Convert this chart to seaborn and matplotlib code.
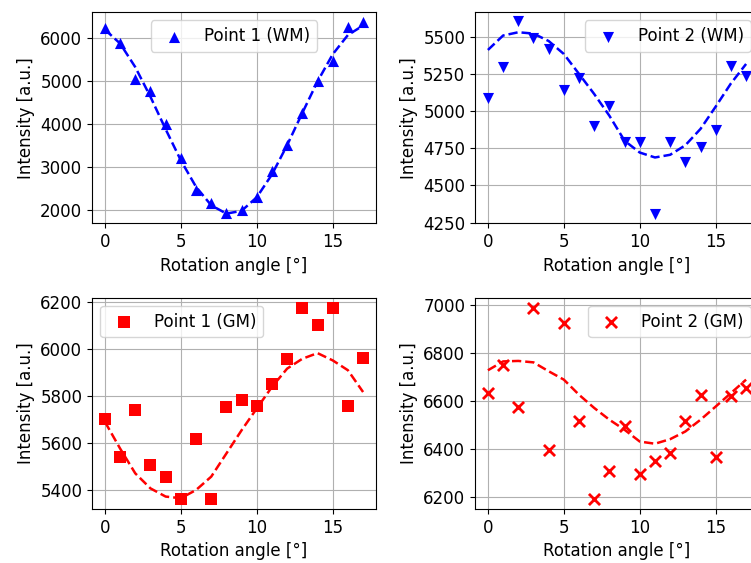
import matplotlib
matplotlib.use("Agg")
import matplotlib.pyplot as plt
import seaborn as sns

# rotation angles (deg)
angles = list(range(18))

# measured intensities
wm1 = [6220, 5890, 5040, 4770, 3990, 3210, 2450, 2160, 1930,
       2000, 2300, 2900, 3500, 4250, 4985, 5450, 6240, 6360]
wm2 = [5085, 5294, 5603, 5489, 5417, 5141, 5219, 4901, 5036,
       4789, 4793, 4307, 4793, 4659, 4755, 4874, 5300, 5233]
gm1 = [5705, 5539, 5740, 5506, 5457, 5362, 5617, 5360, 5753,
       5783, 5760, 5851, 5959, 6176, 6106, 6176, 5757, 5965]
gm2 = [6634, 6753, 6574, 6989, 6398, 6927, 6519, 6192, 6311,
       6495, 6298, 6352, 6384, 6516, 6624, 6367, 6620, 6655]

# fitted curves
wm1_fit = [6190, 5867, 5317, 4626, 3871, 3147, 2531, 2102, 1908,
           1973, 2289, 2820, 3502, 4252, 4984, 5616, 6064, 6285]
wm2_fit = [5410, 5507, 5529, 5520, 5470, 5383, 5249, 5114, 4968,
           4800, 4721, 4688, 4706, 4770, 4880, 5030, 5185, 5316]
gm1_fit = [5691, 5577, 5471, 5407, 5372, 5365, 5400, 5457, 5556,
           5655, 5748, 5840, 5918, 5960, 5984, 5953, 5911, 5818]
gm2_fit = [6729, 6766, 6768, 6762, 6725, 6690, 6627, 6572, 6523,
           6481, 6432, 6423, 6442, 6474, 6523, 6578, 6634, 6690]

labels = ["Point 1 (WM)", "Point 2 (WM)", "Point 1 (GM)", "Point 2 (GM)"]

plt.rcParams["font.size"] = 12

fig, axes = plt.subplots(2, 2, figsize=(7.51, 5.63), dpi=100)
fig.subplots_adjust(left=92/751, right=759/751, bottom=1-509/563, top=1-12/563,
                    wspace=0.3486, hspace=0.3507)

panels = [
    (axes[0, 0], wm1, wm1_fit, "b", "^", labels[0], "upper center", (1680, 6600)),
    (axes[0, 1], wm2, wm2_fit, "b", "v", labels[1], "upper right", (4245, 5665)),
    (axes[1, 0], gm1, gm1_fit, "r", "s", labels[2], "upper left", (5319, 6221)),
    (axes[1, 1], gm2, gm2_fit, "r", "x", labels[3], "upper right", (6151, 7032)),
]

for ax, y, fit, c, m, lab, loc, ylim in panels:
    ax.grid(True, color="#b0b0b0", linewidth=0.8)
    ax.set_axisbelow(True)
    if m == "x":
        sns.scatterplot(x=angles, y=y, marker=m, color=c, s=64, linewidth=2,
                        label=lab, ax=ax, zorder=3)
    else:
        sns.scatterplot(x=angles, y=y, marker=m, color=c, s=64, linewidth=0,
                        label=lab, ax=ax, zorder=3)
    sns.lineplot(x=angles, y=fit, color=c, linestyle="--", linewidth=1.8,
                 ax=ax, zorder=4)
    ax.set_xlim(-0.85, 17.85)
    ax.set_ylim(*ylim)
    ax.set_xticks([0, 5, 10, 15])
    ax.set_xlabel("Rotation angle [°]")
    ax.set_ylabel("Intensity [a.u.]")
    ax.legend(loc=loc)

fig.savefig("out.png", dpi=100)
